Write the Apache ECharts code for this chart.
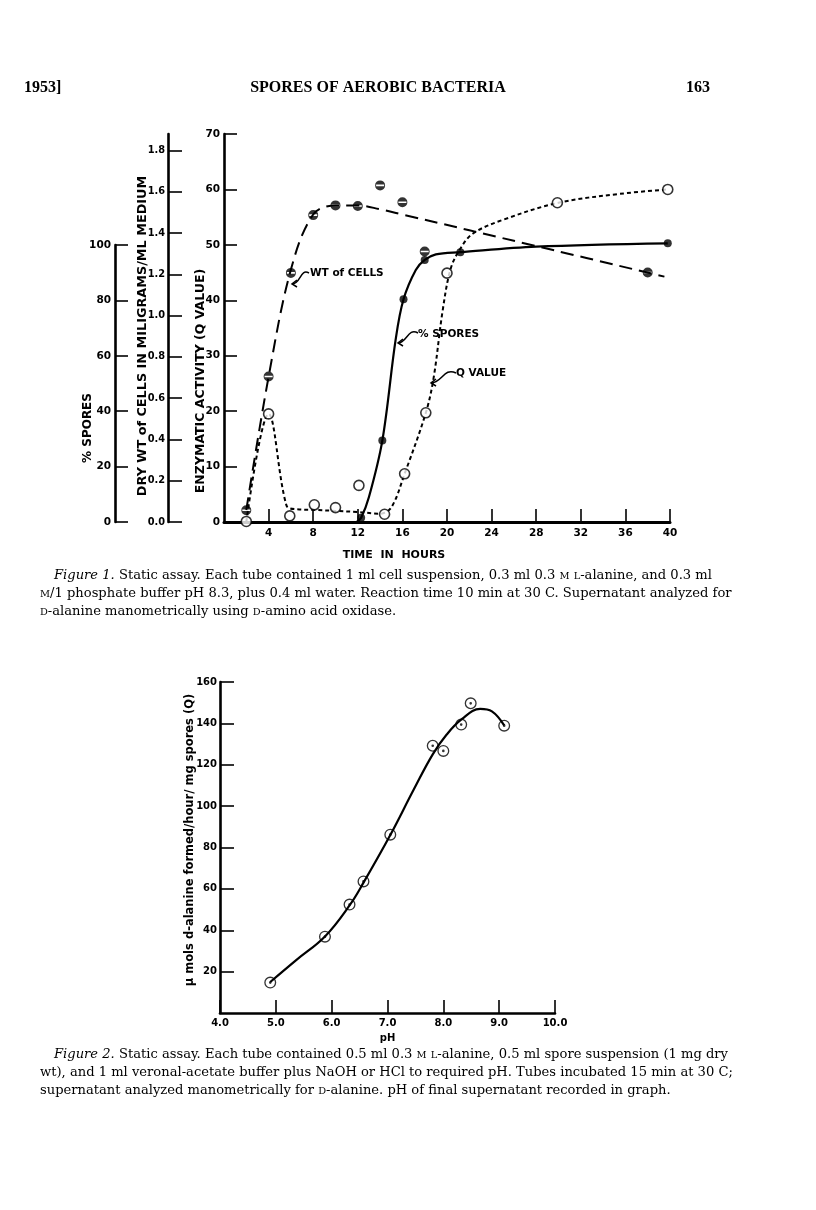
<!DOCTYPE html>
<html><head><meta charset="utf-8">
<script src="https://cdn.jsdelivr.net/npm/echarts@6/dist/echarts.min.js"></script>
<style>html,body{margin:0;padding:0;background:#fff}#c{width:816px;height:1210px}</style>
</head><body><div id="c"></div>
<script>
// ---------- Figure 1 data (time in hours) ----------
const timeTicks = [4, 8, 12, 16, 20, 24, 28, 32, 36, 40];
// Q value (enzymatic activity) – open circles, short-dashed curve
const qPoints = [[2,0.1],[4,19.5],[5.9,1.1],[8.1,3.1],[10,2.6],[12.1,6.6],[14.4,1.4],[16.2,8.7],[18.1,19.7],[20,44.9],[29.9,57.6],[39.8,60]];
const qCurve  = [[2,0],[4,19.5],[5.6,3],[6.5,2.3],[8,2.2],[10,2],[12,1.8],[14,1.5],[15,2.6],[16.2,8.7],[18.1,19.7],[18.8,26],[19.6,38],[20.3,45.5],[21.1,49],[22.3,52],[25,54.5],[30,57.6],[35.5,59.2],[39.8,60]];
// % spores – filled dots, solid curve
const sporePoints = [[12.3,1.5],[14.2,29.4],[16.1,80.4],[18,94.6],[21.2,97.4],[39.8,100.6]];
const sporeCurve  = [[11.9,0],[12.3,1.5],[13,9],[14.2,29.4],[15.4,66],[16.1,80.4],[17.2,91],[18,94.6],[19,96.6],[21.2,97.4],[28,99.4],[39.8,100.6]];
// dry weight of cells (mg/ml) – half-filled circles, long-dashed curve
const wtPoints = [[2,0.057],[4,0.705],[6,1.207],[8,1.487],[10,1.534],[12,1.531],[14,1.631],[16,1.549],[18,1.311],[38,1.209]];
const wtCurve  = [[2,0.058],[4,0.704],[6,1.223],[8,1.49],[10,1.534],[12,1.534],[14,1.515],[16,1.49],[28,1.337],[39.5,1.189]];
const qTicks = [0,10,20,30,40,50,60,70];
const sporeTicks = [0,20,40,60,80,100];
const wtTicks = [0,0.2,0.4,0.6,0.8,1.0,1.2,1.4,1.6,1.8];

// ---------- Figure 2 data (pH) ----------
const phTicks = [4,5,6,7,8,9,10];
const phPoints = [[4.9,14.7],[5.88,36.9],[6.32,52.4],[6.57,63.6],[7.05,86.2],[7.81,129.2],[8.0,126.7],[8.32,139.4],[8.49,149.7],[9.09,138.9]];
const phCurve  = [[4.9,15],[5.37,25.7],[5.88,37],[6.32,52],[6.57,63],[7.05,86],[7.47,108],[7.81,125],[8.06,134.6],[8.33,142],[8.66,147],[8.87,145.8],[9.09,139]];

const halfSym = 'path://M0,-10A10,10 0 1,1 0,10A10,10 0 1,1 0,-10Z M-8,-1.6L-8,1.6L8,1.6L8,-1.6Z';
const dotSym = 'path://M0,-10A10,10 0 1,1 0,10A10,10 0 1,1 0,-10Z M0,-7.8A7.8,7.8 0 1,0 0,7.8A7.8,7.8 0 1,0 0,-7.8Z M0,-2.2A2.2,2.2 0 1,1 0,2.2A2.2,2.2 0 1,1 0,-2.2Z';

const SANS = 'DejaVu Sans';
const lab = {color:'#000', fontFamily:SANS, fontWeight:'bold', fontSize:10.5};
const ax = w => ({show:true, onZero:false, lineStyle:{color:'#000', width:w}});
const tick = (len) => ({show:true, inside:true, length:len, lineStyle:{color:'#000', width:1.6}});
const SERIF = '"DejaVu Serif"';
const CAP = 13.1;
const rich = {
  it:{font:'italic '+CAP+'px '+SERIF, fill:'#000'},
  r:{font:CAP+'px '+SERIF, fill:'#000'},
  sc:{font:(CAP*0.75)+'px '+SERIF, fill:'#000'}
};

const chart = echarts.init(document.getElementById('c'), null, {renderer:'canvas'});
const option = {
  backgroundColor:'#fff',
  animation:false,
  grid:[
    {left:224, top:134, width:446, height:388},   // Q value
    {left:224, top:245, width:446, height:277},   // % spores
    {left:224, top:134, width:446, height:388},   // dry wt
    {left:220, top:682, width:335, height:331}    // figure 2
  ],
  xAxis:[
    {gridIndex:0, type:'value', min:0, max:40, interval:4, axisLine:ax(3), axisTick:tick(13),
      axisLabel:Object.assign({showMinLabel:false, margin:6}, lab), splitLine:{show:false}},
    {gridIndex:1, type:'value', min:0, max:40, show:false},
    {gridIndex:2, type:'value', min:0, max:40, show:false},
    {gridIndex:3, type:'value', min:4, max:10, interval:1, axisLine:ax(2.6), axisTick:tick(13),
      axisLabel:Object.assign({margin:5, formatter:v=>v.toFixed(1)}, lab, {fontSize:10}), splitLine:{show:false},
      name:'pH', nameLocation:'middle', nameGap:20, nameTextStyle:Object.assign({}, lab, {fontSize:10})}
  ],
  yAxis:[
    {gridIndex:0, type:'value', min:0, max:70, interval:10, axisLine:ax(2.6), axisTick:tick(13),
      axisLabel:Object.assign({margin:4}, lab), splitLine:{show:false}},
    {gridIndex:1, type:'value', min:0, max:100, interval:20, offset:109, axisLine:ax(2.6), axisTick:tick(13),
      axisLabel:Object.assign({margin:4}, lab), splitLine:{show:false}},
    {gridIndex:2, type:'value', min:0, max:1.88, offset:56, axisLine:ax(2.6),
      axisTick:Object.assign(tick(14), {customValues:wtTicks}),
      axisLabel:Object.assign({margin:3, customValues:wtTicks, formatter:v=>v.toFixed(1)}, lab, {fontSize:9.8}), splitLine:{show:false}},
    {gridIndex:3, type:'value', min:0, max:160, interval:20, axisLine:ax(2.6), axisTick:tick(14),
      axisLabel:Object.assign({showMinLabel:false, margin:3}, lab, {fontSize:10}), splitLine:{show:false}}
  ],
  series:[
    {type:'line', xAxisIndex:2, yAxisIndex:2, data:wtCurve, smooth:0.35, symbol:'none', clip:false,
      lineStyle:{color:'#000', width:2, type:[13,7]}, z:2},
    {type:'line', xAxisIndex:0, yAxisIndex:0, data:qCurve, smooth:0.35, symbol:'none', clip:false,
      lineStyle:{color:'#000', width:2, type:[4,3]}, z:2},
    {type:'line', xAxisIndex:1, yAxisIndex:1, data:sporeCurve, smooth:0.35, symbol:'none', clip:false,
      lineStyle:{color:'#000', width:2.2}, z:2},
    {type:'scatter', xAxisIndex:2, yAxisIndex:2, data:wtPoints, symbol:halfSym, symbolSize:10, clip:false,
      itemStyle:{color:'#000'}, z:5},
    {type:'scatter', xAxisIndex:1, yAxisIndex:1, data:sporePoints, symbol:'circle', symbolSize:8, clip:false,
      itemStyle:{color:'#000'}, z:5},
    {type:'scatter', xAxisIndex:0, yAxisIndex:0, data:qPoints, symbol:'circle', symbolSize:10, clip:false,
      itemStyle:{color:'#fff', borderColor:'#000', borderWidth:1.6}, z:5},
    {type:'line', xAxisIndex:3, yAxisIndex:3, data:phCurve, smooth:0.4, symbol:'none',
      lineStyle:{color:'#000', width:2.2}, z:2},
    {type:'scatter', xAxisIndex:3, yAxisIndex:3, data:phPoints, symbol:dotSym, symbolSize:12,
      itemStyle:{color:'#000'}, z:5}
  ],
  graphic:[
    // page header
    {type:'text', x:24, y:88, style:{text:'1953]', font:'bold 16px "Liberation Serif"', fill:'#000', verticalAlign:'middle'}},
    {type:'text', x:378, y:88, style:{text:'SPORES OF AEROBIC BACTERIA', font:'bold 16px "Liberation Serif"', fill:'#000', align:'center', verticalAlign:'middle'}},
    {type:'text', x:710, y:88, style:{text:'163', font:'bold 16px "Liberation Serif"', fill:'#000', align:'right', verticalAlign:'middle'}},
    // figure 1 axis titles
    {type:'text', x:88, y:428, rotation:Math.PI/2, style:{text:'% SPORES', font:'bold 12px "DejaVu Sans"', fill:'#000', align:'center', verticalAlign:'middle'}},
    {type:'text', x:143, y:336, rotation:Math.PI/2, style:{text:'DRY WT of CELLS IN MILIGRAMS/ML MEDIUM', font:'bold 12.8px "DejaVu Sans"', fill:'#000', align:'center', verticalAlign:'middle'}},
    {type:'text', x:201, y:381, rotation:Math.PI/2, style:{text:'ENZYMATIC ACTIVITY (Q VALUE)', font:'bold 12.5px "DejaVu Sans"', fill:'#000', align:'center', verticalAlign:'middle'}},
    {type:'text', x:394, y:555, style:{text:'TIME  IN  HOURS', font:'bold 11px "DejaVu Sans"', fill:'#000', align:'center', verticalAlign:'middle'}},
    // curve annotations
    {type:'text', x:310, y:273, style:{text:'WT of CELLS', font:'bold 10.5px "DejaVu Sans"', fill:'#000', verticalAlign:'middle'}},
    {type:'bezierCurve', shape:{x1:309,y1:273,cpx1:300,cpy1:268,cpx2:301,cpy2:284,x2:292,y2:284}, style:{stroke:'#000', lineWidth:1.5, fill:null}},
    {type:'polyline', shape:{points:[[297,280],[292,284],[297,287]]}, style:{stroke:'#000', lineWidth:1.5, fill:null}},
    {type:'text', x:418, y:334, style:{text:'% SPORES', font:'bold 10.5px "DejaVu Sans"', fill:'#000', verticalAlign:'middle'}},
    {type:'bezierCurve', shape:{x1:418,y1:333,cpx1:408,cpy1:327,cpx2:407,cpy2:343,x2:398,y2:343}, style:{stroke:'#000', lineWidth:1.5, fill:null}},
    {type:'polyline', shape:{points:[[403,339],[398,343],[403,346]]}, style:{stroke:'#000', lineWidth:1.5, fill:null}},
    {type:'text', x:456, y:373, style:{text:'Q VALUE', font:'bold 10.5px "DejaVu Sans"', fill:'#000', verticalAlign:'middle'}},
    {type:'bezierCurve', shape:{x1:456,y1:373,cpx1:444,cpy1:367,cpx2:442,cpy2:383,x2:431,y2:383}, style:{stroke:'#000', lineWidth:1.5, fill:null}},
    {type:'polyline', shape:{points:[[436,379],[431,383],[436,386]]}, style:{stroke:'#000', lineWidth:1.5, fill:null}},
    // figure 2 y title
    {type:'text', x:190, y:840, rotation:Math.PI/2, style:{text:'\u00b5 mols d-alanine formed/hour/ mg spores (Q)', font:'bold 11.5px "DejaVu Sans"', fill:'#000', align:'center', verticalAlign:'middle'}},
    // captions
    {type:'text', x:54, y:576, style:{rich:rich, verticalAlign:'middle',
      text:'{it|Figure 1.}{r| Static assay. Each tube contained 1 ml cell suspension, 0.3 ml 0.3 }{sc|M}{r| }{sc|L}{r|-alanine, and 0.3 ml}'}},
    {type:'text', x:40, y:594, style:{rich:rich, verticalAlign:'middle',
      text:'{sc|M}{r|/1 phosphate buffer pH 8.3, plus 0.4 ml water. Reaction time 10 min at 30 C. Supernatant analyzed for}'}},
    {type:'text', x:40, y:612, style:{rich:rich, verticalAlign:'middle',
      text:'{sc|D}{r|-alanine manometrically using }{sc|D}{r|-amino acid oxidase.}'}},
    {type:'text', x:54, y:1055, style:{rich:rich, verticalAlign:'middle',
      text:'{it|Figure 2.}{r| Static assay. Each tube contained 0.5 ml 0.3 }{sc|M}{r| }{sc|L}{r|-alanine, 0.5 ml spore suspension (1 mg dry}'}},
    {type:'text', x:40, y:1073, style:{rich:rich, verticalAlign:'middle',
      text:'{r|wt), and 1 ml veronal-acetate buffer plus NaOH or HCl to required pH. Tubes incubated 15 min at 30 C;}'}},
    {type:'text', x:40, y:1091, style:{rich:rich, verticalAlign:'middle',
      text:'{r|supernatant analyzed manometrically for }{sc|D}{r|-alanine. pH of final supernatant recorded in graph.}'}}
  ]
};
chart.setOption(option);
</script></body></html>
